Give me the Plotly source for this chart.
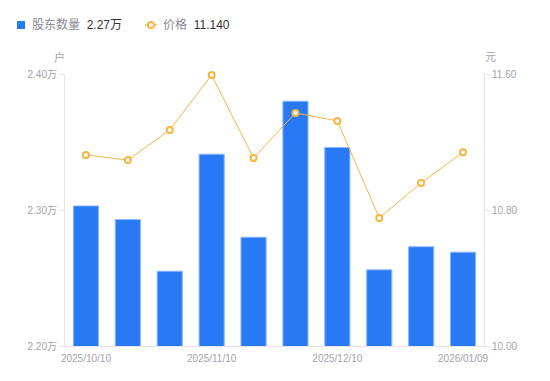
import plotly.graph_objects as go

dates = ["2025/10/10", "2025/10/20", "2025/10/31", "2025/11/10", "2025/11/20",
         "2025/11/28", "2025/12/10", "2025/12/19", "2025/12/31", "2026/01/09"]
holders = [2.303, 2.293, 2.255, 2.341, 2.280, 2.380, 2.346, 2.256, 2.273, 2.269]
price = [11.124, 11.094, 11.271, 11.594, 11.106, 11.371, 11.324, 10.753, 10.959, 11.140]
tick_dates = ["2025/10/10", "2025/11/10", "2025/12/10", "2026/01/09"]
left_ticks = [2.20, 2.30, 2.40]
left_labels = ["2.20万", "2.30万", "2.40万"]
right_ticks = [10.00, 10.80, 11.60]
right_labels = ["10.00", "10.80", "11.60"]

font = "Liberation Sans, Noto Sans CJK SC, sans-serif"
gray = "#a3a3ad"
axis_c = "#e3e3e8"

fig = go.Figure()
fig.add_trace(go.Bar(
    x=dates, y=holders, name="股东数量",
    marker=dict(color="#2979f5", line=dict(color="#8db8fa", width=1)),
    width=0.6, yaxis="y", showlegend=False,
))
fig.add_trace(go.Scatter(
    x=dates, y=price, name="价格", mode="lines+markers",
    line=dict(color="#f7b542", width=1),
    marker=dict(symbol="circle", size=6, color="white", line=dict(color="#f7b542", width=2)),
    yaxis="y2", showlegend=False, cliponaxis=False,
))

fig.update_layout(
    width=550, height=381,
    margin=dict(l=65, r=66, t=74, b=35),
    paper_bgcolor="white", plot_bgcolor="white",
    font=dict(family=font, size=10, color=gray),
    xaxis=dict(
        type="category", range=[-0.5, len(dates) - 0.5],
        tickmode="array", tickvals=tick_dates, ticktext=tick_dates,
        showline=True, linecolor=axis_c, linewidth=1, ticks="", showgrid=False,
        tickfont=dict(size=10, color=gray), ticklabelstandoff=3,
    ),
    yaxis=dict(
        range=[2.20, 2.40], tickvals=left_ticks, ticktext=left_labels,
        showline=True, linecolor=axis_c, linewidth=1, ticks="outside", ticklen=5,
        tickcolor=axis_c, showgrid=False, zeroline=False, tickfont=dict(size=10, color=gray),
    ),
    yaxis2=dict(
        range=[10.00, 11.60], tickvals=right_ticks, ticktext=right_labels,
        overlaying="y", side="right",
        showline=True, linecolor=axis_c, linewidth=1, ticks="outside", ticklen=5,
        tickcolor=axis_c, showgrid=False, zeroline=False, tickfont=dict(size=10, color=gray),
    ),
    showlegend=False,
)

# Legend (custom, with latest values)
fig.add_shape(type="rect", xref="paper", yref="paper",
              x0=-(65 - 17) / 419, x1=-(65 - 25) / 419,
              y0=1 + (74 - 29) / 272, y1=1 + (74 - 21) / 272,
              fillcolor="#2979f5", line=dict(width=0))
fig.add_annotation(xref="paper", yref="paper", x=-(65 - 30) / 419, y=1 + (74 - 25) / 272,
                   xanchor="left", yanchor="middle", showarrow=False,
                   text="股东数量  <span style='color:#333333'>2.27万</span>",
                   font=dict(size=12, color="#8a8a96"))
fig.add_shape(type="line", xref="paper", yref="paper",
              x0=(145 - 65) / 419, x1=(157 - 65) / 419,
              y0=1 + (74 - 25) / 272, y1=1 + (74 - 25) / 272,
              line=dict(color="#f7b542", width=1.5))
fig.add_shape(type="circle", xref="paper", yref="paper",
              x0=(148 - 65) / 419, x1=(154 - 65) / 419,
              y0=1 + (74 - 28) / 272, y1=1 + (74 - 22) / 272,
              fillcolor="white", line=dict(color="#f7b542", width=2))
fig.add_annotation(xref="paper", yref="paper", x=(161 - 65) / 419, y=1 + (74 - 25) / 272,
                   xanchor="left", yanchor="middle", showarrow=False,
                   text="价格  <span style='color:#333333'>11.140</span>",
                   font=dict(size=12, color="#8a8a96"))

# Axis unit labels
fig.add_annotation(xref="paper", yref="paper", x=-(65 - 59) / 419, y=1 + (74 - 57) / 272,
                   xanchor="center", yanchor="middle", showarrow=False, text="户",
                   font=dict(size=11, color=gray))
fig.add_annotation(xref="paper", yref="paper", x=1 + (490 - 484) / 419, y=1 + (74 - 57) / 272,
                   xanchor="center", yanchor="middle", showarrow=False, text="元",
                   font=dict(size=11, color=gray))

fig.write_html("out.html", config={"displayModeBar": False},
               post_script="document.body.style.margin='0';document.body.style.padding='0';")
